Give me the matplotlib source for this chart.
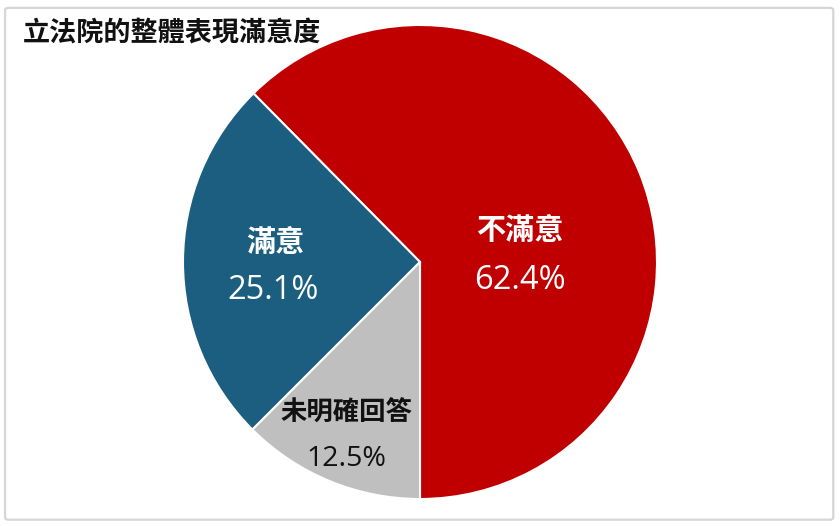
import matplotlib
matplotlib.use("Agg")
import matplotlib.pyplot as plt
from matplotlib.patches import FancyBboxPatch

plt.rcParams['font.family'] = ['Noto Sans CJK TC', 'DejaVu Sans']

# data, counter-clockwise from straight down
title = "立法院的整體表現滿意度"
labels = ["不滿意", "滿意", "未明確回答"]
values = [62.4, 25.1, 12.5]
colors = ["#C00000", "#1B5E7F", "#BFBFBF"]
text_colors = ["white", "white", "#111111"]

# label placements in pie data coords (name, pct)
name_pos = [(0.42, 0.135), (-0.61, 0.085), (-0.31, -0.64)]
pct_pos = [(0.42, -0.08), (-0.62, -0.12), (-0.31, -0.83)]
name_size = [21, 21, 19]
pct_size = [23.5, 23.5, 20.5]

fig = plt.figure(figsize=(8.4, 5.26), dpi=100)

# outer frame
frame = FancyBboxPatch((0.006, 0.012), 0.986, 0.973,
                       boxstyle="round,pad=0,rounding_size=0.004",
                       transform=fig.transFigure, facecolor="none",
                       edgecolor="#D6D6D6", linewidth=1.6, zorder=0)
fig.patches.append(frame)

ax = fig.add_axes([183 / 840, 27 / 526, 474 / 840, 474 / 526])
ax.set_zorder(2)
ax.pie(values, colors=colors, startangle=-90, counterclock=True,
       radius=1.0, wedgeprops=dict(edgecolor="white", linewidth=1.5))
ax.set_xlim(-1.0, 1.0)
ax.set_ylim(-1.0, 1.0)
ax.set_aspect("equal")
ax.axis("off")

for i, lab in enumerate(labels):
    ax.text(name_pos[i][0], name_pos[i][1], lab, ha="center", va="center",
            color=text_colors[i], fontsize=name_size[i], fontweight="bold")
    ax.text(pct_pos[i][0], pct_pos[i][1], f"{values[i]:.1f}%", ha="center",
            va="center", color=text_colors[i], fontsize=pct_size[i],
            family=["Open Sans", "DejaVu Sans"])

fig.text(23 / 840, 1 - 33 / 526, title, ha="left", va="center",
         fontsize=19.5, fontweight="bold", color="#111111")

fig.savefig("out.png", dpi=100)
